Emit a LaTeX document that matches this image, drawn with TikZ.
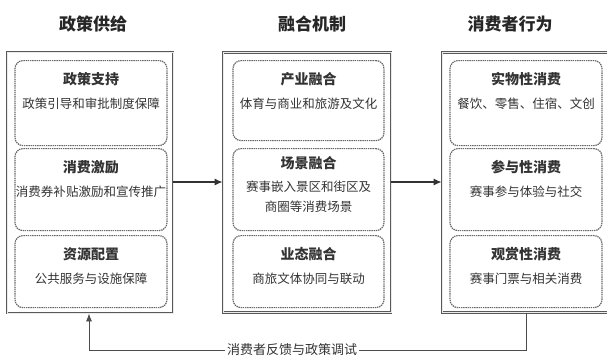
\documentclass[tikz,border=0pt]{standalone}
\usepackage{fontspec}
\setmainfont{Noto Sans CJK SC}
\usetikzlibrary{arrows.meta, positioning, calc}
\newcommand{\boxhead}{\fontsize{14}{17}\selectfont\bfseries}

\begin{document}
\begin{tikzpicture}[
  x=1pt, y=-1pt,
  outbox/.style={draw=black!65, line width=0.8pt, double=black!8, double distance=0.8pt,
                 minimum width=#1, inner sep=0pt},
  inbox/.style={draw=black!60, dashed, dash pattern=on 1.4pt off 0.8pt, line width=1.2pt,
                rounded corners=8pt, minimum width=#1, anchor=north, inner sep=0pt},
  ttl/.style={font=\fontsize{17}{20}\selectfont\bfseries, text=black!85},
  txt/.style={align=center, font=\fontsize{12.5}{20}\selectfont, text=black!80, inner sep=1pt},
  arr/.style={-{Latex[length=8pt, width=7pt]}, line width=1.2pt, black!80},
  fb/.style={-{Latex[length=8pt, width=6pt]}, line width=0.8pt, black!70},
  lbl/.style={font=\fontsize{13}{15}\selectfont, text=black!80, fill=white, inner sep=2pt}
]
\useasboundingbox (0,0) rectangle (607,359);

% column frames
\node[outbox=166pt, minimum height=261pt] (pol) at (90,182.5) {};
\node[outbox=168pt, minimum height=260pt] (mix) at (307,182.5) {};
\node[outbox=166pt, minimum height=260pt] (beh) at (525,182.5) {};

\node[ttl] (tpol) at (93,24) {政策供给};
\node[ttl] (tmix) at (312,24) {融合机制};
\node[ttl] (tbeh) at (510,24) {消费者行为};

% policy supply
\node[inbox=152pt, minimum height=85pt] (p1) at (91,60) {};
\node[txt, below=11pt of p1.north] (p1t) {{\boxhead 政策支持}\\[4pt]政策引导和审批制度保障};
\node[inbox=152pt, minimum height=82pt] (p2) at (91,148) {};
\node[txt, below=11pt of p2.north] (p2t) {{\boxhead 消费激励}\\[4pt]消费券补贴激励和宣传推广};
\node[inbox=152pt, minimum height=72pt] (p3) at (91,235) {};
\node[txt, below=11pt of p3.north] (p3t) {{\boxhead 资源配置}\\[4pt]公共服务与设施保障};

% fusion mechanism
\node[inbox=151pt, minimum height=80pt] (m1) at (308.5,60) {};
\node[txt, below=11pt of m1.north] (m1t) {{\boxhead 产业融合}\\[4pt]体育与商业和旅游及文化};
\node[inbox=151pt, minimum height=82pt] (m2) at (308.5,148) {};
\node[txt, below=7pt of m2.north] (m2t) {{\boxhead 场景融合}\\[3pt]赛事嵌入景区和街区及\\商圈等消费场景};
\node[inbox=151pt, minimum height=72pt] (m3) at (308.5,235) {};
\node[txt, below=11pt of m3.north] (m3t) {{\boxhead 业态融合}\\[4pt]商旅文体协同与联动};

% consumer behaviour
\node[inbox=152pt, minimum height=85pt] (b1) at (526,60) {};
\node[txt, below=11pt of b1.north] (b1t) {{\boxhead 实物性消费}\\[4pt]餐饮、零售、住宿、文创};
\node[inbox=152pt, minimum height=82pt] (b2) at (526,148) {};
\node[txt, below=11pt of b2.north] (b2t) {{\boxhead 参与性消费}\\[4pt]赛事参与体验与社交};
\node[inbox=152pt, minimum height=72pt] (b3) at (526,235) {};
\node[txt, below=11pt of b3.north] (b3t) {{\boxhead 观赏性消费}\\[4pt]赛事门票与相关消费};

% flow
\draw[arr] (pol.east |- 0,182) -- (mix.west |- 0,182);
\draw[arr] (mix.east |- 0,182) -- (beh.west |- 0,182);

% feedback loop
\coordinate (fbr) at (526,350);
\coordinate (fbl) at (89,350);
\draw[fb] (beh.south -| fbr) -- (fbr) -- node[lbl, pos=0.535] (fbt) {消费者反馈与政策调试} (fbl)
          -- (pol.south -| fbl);
\end{tikzpicture}
\end{document}
